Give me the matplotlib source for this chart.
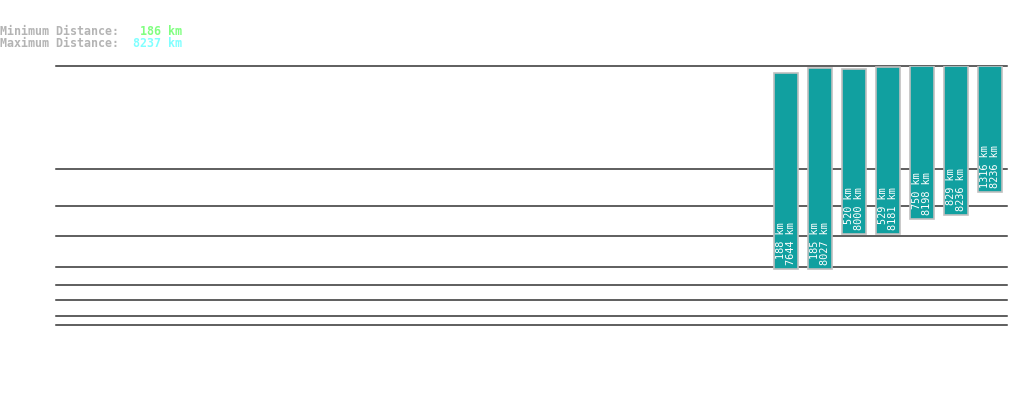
import numpy as np
import matplotlib
matplotlib.use("Agg")
import matplotlib.pyplot as plt
import matplotlib.transforms as mtransforms

# ---- data ----
n_slots = 28
min_km = [188, 185, 520, 529, 750, 829, 1316]
max_km = [7644, 8027, 8000, 8181, 8198, 8236, 8236]
overall_min = 186
overall_max = 8237
grid_km = [10, 20, 50, 100, 200, 500, 1000, 2000, overall_max]

W, H = 1019, 402
fig = plt.figure(figsize=(W / 100, H / 100), dpi=100)
fig.patch.set_facecolor("white")

ax_left, ax_right = 56, 1007
ax_top, ax_bottom = 67.0, 326.0
ax = fig.add_axes([ax_left / W, (H - ax_bottom) / H,
                   (ax_right - ax_left) / W, (ax_bottom - ax_top) / H])

p = 0.3
ax.set_yscale("function", functions=(lambda v: np.power(np.clip(v, 0, None), p),
                                     lambda v: np.power(np.clip(v, 0, None), 1 / p)))
ax.set_ylim(grid_km[0], overall_max)
ax.set_xlim(-0.5, n_slots - 0.5)

for g in grid_km:
    ax.axhline(g, color="#333333", linewidth=1.1, zorder=1, clip_on=False)

xs = np.arange(n_slots - len(min_km), n_slots)
heights = [mx - mn for mn, mx in zip(min_km, max_km)]
ax.bar(xs, heights, bottom=min_km, width=0.72, color="#11a0a0",
       edgecolor="#c0c0c0", linewidth=1.2, zorder=2)

off = mtransforms.offset_copy(ax.transData, fig=fig, x=0, y=5, units="dots")
for x, mn, mx in zip(xs, min_km, max_km):
    ax.text(x, mn, f"{mn} km\n{mx} km", rotation=90, ha="center", va="bottom",
            multialignment="right", color="white", family="DejaVu Sans Mono",
            fontsize=7.4, linespacing=1.0, transform=off, zorder=3)

for s in ax.spines.values():
    s.set_visible(False)
ax.set_xticks([])
ax.set_yticks([])
ax.yaxis.set_minor_locator(matplotlib.ticker.NullLocator())
ax.set_facecolor("none")

fs = 8.4
gray = "#b4b4b4"
kw = dict(family="DejaVu Sans Mono", fontsize=fs, va="baseline", ha="left",
          fontweight="bold")
fig.text(0 / W, 1 - 35 / H, "Minimum Distance:", color=gray, **kw)
fig.text(0 / W, 1 - 47 / H, "Maximum Distance:", color=gray, **kw)
fig.text(140 / W, 1 - 35 / H, f"{overall_min} km", color="#80ff80", **kw)
fig.text(133 / W, 1 - 47 / H, f"{overall_max} km", color="#80ffff", **kw)

fig.savefig("out.png", dpi=100, facecolor="white")
